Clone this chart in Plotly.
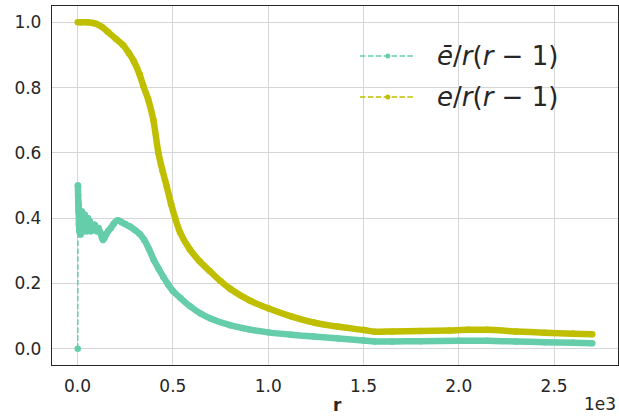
import plotly.graph_objects as go

# ---------------- data ----------------
r_bar = [1, 2, 3, 4, 5, 6, 7, 8, 9, 10, 12, 14, 16, 18, 20, 23, 26, 30, 34, 38,
         42, 46, 50, 55, 60, 65, 70, 75, 80, 90, 100, 110, 120, 128, 134, 140,
         150, 160, 175, 190, 205, 215, 230, 250, 275, 300, 325, 350, 375, 400,
         425, 450, 475, 500, 540, 590, 645, 700, 800, 900, 1000, 1120, 1240,
         1370, 1500, 1560, 1650, 1800, 2000, 2150, 2300, 2450, 2600, 2700]
ebar_ratio = [0.0, 0.5, 0.47, 0.45, 0.42, 0.44, 0.38, 0.41, 0.36, 0.42, 0.37,
              0.40, 0.35, 0.41, 0.37, 0.42, 0.38, 0.40, 0.36, 0.41, 0.37, 0.39,
              0.36, 0.40, 0.37, 0.39, 0.36, 0.38, 0.365, 0.38, 0.36, 0.37, 0.355,
              0.34, 0.333, 0.338, 0.35, 0.36, 0.37, 0.383, 0.392, 0.393, 0.388,
              0.382, 0.374, 0.364, 0.352, 0.333, 0.305, 0.272, 0.245, 0.22,
              0.197, 0.177, 0.155, 0.13, 0.108, 0.092, 0.072, 0.059, 0.05,
              0.043, 0.037, 0.031, 0.025, 0.022, 0.022, 0.023, 0.024, 0.024,
              0.022, 0.02, 0.018, 0.017]

r_e = [1, 20, 50, 80, 100, 130, 160, 200, 239, 270, 296, 326, 345, 370, 398,
       424, 446, 468, 490, 512, 538, 588, 640, 693, 750, 802, 902, 1003, 1120,
       1240, 1370, 1503, 1560, 1650, 1800, 1950, 2050, 2150, 2300, 2450, 2600,
       2700]
e_ratio = [1.0, 1.0, 1.0, 0.998, 0.995, 0.985, 0.97, 0.95, 0.93, 0.905, 0.88,
           0.84, 0.805, 0.765, 0.70, 0.60, 0.545, 0.497, 0.445, 0.40, 0.356,
           0.305, 0.268, 0.238, 0.207, 0.183, 0.148, 0.123, 0.099, 0.08, 0.067,
           0.057, 0.052, 0.053, 0.054, 0.056, 0.058, 0.058, 0.053, 0.049,
           0.046, 0.044]

x_tickvals = [0, 500, 1000, 1500, 2000, 2500]
x_ticktext = ["0.0", "0.5", "1.0", "1.5", "2.0", "2.5"]
y_tickvals = [0.0, 0.2, 0.4, 0.6, 0.8, 1.0]
y_ticktext = ["0.0", "0.2", "0.4", "0.6", "0.8", "1.0"]

legend_labels = ["<i>ē</i>/<i>r</i>(<i>r</i> − 1)", "<i>e</i>/<i>r</i>(<i>r</i> − 1)"]

TEAL = "#66cdaa"
YEL = "#bfbf00"
TXT = "#262626"
GRID = "#d6d6d6"
FONT = "DejaVu Sans"

# ---------------- figure ----------------
W, H = 619, 416
L, R, T, B = 52, 618, 6, 365


def pxx(x):
    return (x - L) / (R - L)


def pyy(y):
    return (B - y) / (B - T)


fig = go.Figure()

# teal: thin dashed start segment + thick dense body
fig.add_trace(go.Scatter(
    x=r_bar[:2], y=ebar_ratio[:2], mode="lines+markers",
    line=dict(color=TEAL, width=1.5, dash="5.5px,2.4px"),
    marker=dict(color=TEAL, size=6.5), showlegend=False, hoverinfo="skip"))
fig.add_trace(go.Scatter(
    x=r_bar[1:], y=ebar_ratio[1:], mode="lines+markers",
    line=dict(color=TEAL, width=6.5, shape="spline", smoothing=0.5),
    marker=dict(color=TEAL, size=6.5),
    showlegend=False))

fig.add_trace(go.Scatter(
    x=r_e, y=e_ratio, mode="lines+markers",
    line=dict(color=YEL, width=6.5, shape="spline", smoothing=0.6),
    marker=dict(color=YEL, size=6.5),
    showlegend=False))

# manual legend (matplotlib style)
shapes = []
annotations = []
for i, (lab, col) in enumerate(zip(legend_labels, [TEAL, YEL])):
    yc = 56 + i * 41
    shapes.append(dict(type="line", xref="paper", yref="paper",
                       x0=pxx(360), x1=pxx(415), y0=pyy(yc), y1=pyy(yc),
                       line=dict(color=col, width=1.5, dash="5.5px,2.4px")))
    shapes.append(dict(type="circle", xref="paper", yref="paper",
                       x0=pxx(385.3), x1=pxx(390.3), y0=pyy(yc - 2.5), y1=pyy(yc + 2.5),
                       fillcolor=col, line=dict(color=col, width=0)))
    annotations.append(dict(text=lab, xref="paper", yref="paper",
                            x=pxx(435), y=pyy(yc), xanchor="left", yanchor="middle",
                            showarrow=False, font=dict(family=FONT, size=26, color=TXT)))

annotations.append(dict(text="1e3", xref="paper", yref="paper", x=1.0, y=pyy(404),
                        xanchor="right", yanchor="middle", showarrow=False,
                        font=dict(family=FONT, size=17, color=TXT)))
annotations.append(dict(text="<b>r</b>", xref="paper", yref="paper", x=pxx(337),
                        y=pyy(405), xanchor="center", yanchor="middle", showarrow=False,
                        font=dict(family=FONT, size=17, color=TXT)))

fig.update_layout(
    width=W, height=H,
    margin=dict(l=L, r=W - R, t=T, b=H - B, pad=0),
    paper_bgcolor="white", plot_bgcolor="white",
    font=dict(family=FONT, size=17, color=TXT),
    showlegend=False,
    shapes=shapes, annotations=annotations,
    xaxis=dict(range=[-134, 2835], tickvals=x_tickvals, ticktext=x_ticktext,
               showgrid=True, gridcolor=GRID, gridwidth=1.2, zeroline=False,
               showline=True, linecolor=TXT, linewidth=1.3, mirror=True,
               ticks="outside", ticklen=5, tickcolor="rgba(0,0,0,0)",
               tickfont=dict(family=FONT, size=17, color=TXT)),
    yaxis=dict(range=[-0.05, 1.05], tickvals=y_tickvals, ticktext=y_ticktext,
               showgrid=True, gridcolor=GRID, gridwidth=1.2, zeroline=False,
               showline=True, linecolor=TXT, linewidth=1.3, mirror=True,
               ticks="outside", ticklen=6, tickcolor="rgba(0,0,0,0)",
               tickfont=dict(family=FONT, size=17, color=TXT)),
)

fig.write_html(
    "out.html",
    config={"displayModeBar": False},
    post_script="document.body.style.margin='0';document.body.style.padding='0';"
                "document.documentElement.style.overflow='hidden';",
)
